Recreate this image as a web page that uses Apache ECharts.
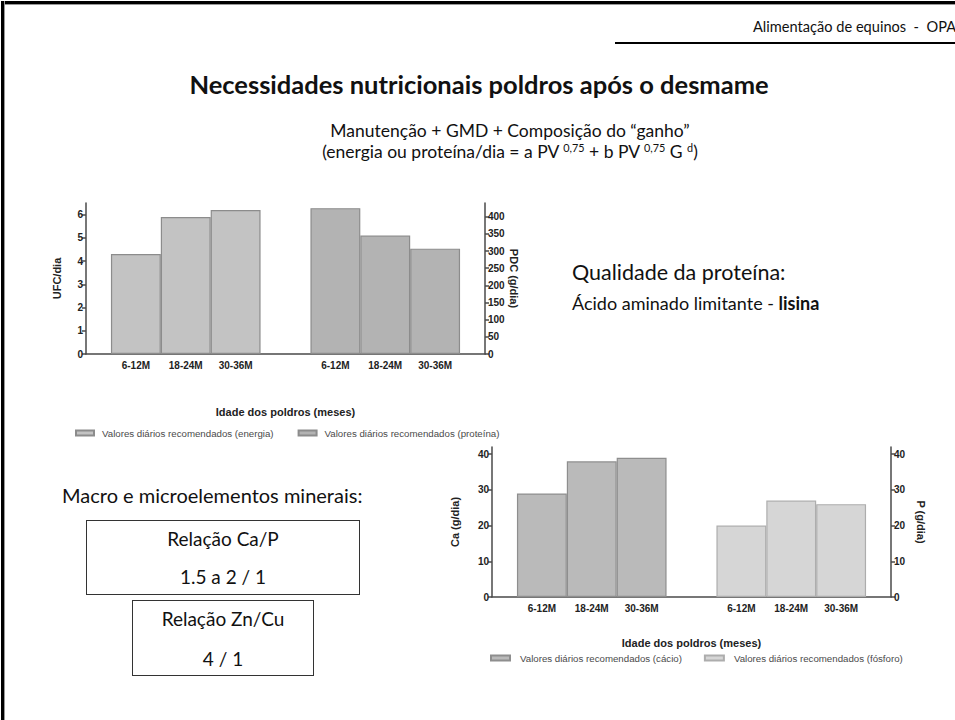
<!DOCTYPE html>
<html>
<head>
<meta charset="utf-8">
<script src="https://cdn.jsdelivr.net/npm/echarts@6/dist/echarts.min.js"></script>
<style>
  html, body { margin: 0; padding: 0; background: #fff; }
  #slide { position: relative; width: 955px; height: 720px; overflow: hidden; background: #fff; font-family: Lato, "Noto Sans", sans-serif; color: #111; }
  #chart { position: absolute; left: 0; top: 0; width: 955px; height: 720px; }
  .t { position: absolute; white-space: nowrap; line-height: 1; }
  .frame-left { position: absolute; left: 1px; top: 1px; width: 3px; height: 719px; background: #000; border-right: 1px solid #999; }
  .frame-top { position: absolute; left: 1px; top: 1px; width: 954px; height: 3px; background: #000; border-bottom: 1px solid #999; }
  .rule { position: absolute; left: 615px; top: 42px; width: 340px; height: 2px; background: #000; }
  .box { position: absolute; border: 1.5px solid #333; box-sizing: border-box; text-align: center; font-size: 19px; }
  .box div { position: absolute; left: 0; right: 0; line-height: 1; }
  sup { font-size: 62%; vertical-align: 0; position: relative; top: -0.55em; }
</style>
</head>
<body>
<div id="slide">
  <div class="frame-top"></div>
  <div class="frame-left"></div>
  <div class="t" style="left:753px; top:20px; font-size:14.6px;">Alimentação de equinos &nbsp;- &nbsp;OPA</div>
  <div class="rule"></div>

  <div class="t" style="left:0; width:958px; text-align:center; top:72px; font-size:25.5px; font-weight:bold;">Necessidades nutricionais poldros após o desmame</div>
  <div class="t" style="left:190px; width:640px; text-align:center; top:122px; font-size:17.5px;">Manutenção + GMD + Composição do “ganho”</div>
  <div class="t" style="left:190px; width:640px; text-align:center; top:143px; font-size:17.5px;">(energia ou proteína/dia = a PV <sup>0,75</sup> + b PV <sup>0,75</sup> G <sup>d</sup>)</div>

  <div class="t" style="left:572px; top:262px; font-size:21.5px;">Qualidade da proteína:</div>
  <div class="t" style="left:572px; top:294px; font-size:18px;">Ácido aminado limitante - <b>lisina</b></div>

  <div class="t" style="left:62px; top:485px; font-size:20px;">Macro e microelementos minerais:</div>
  <div class="box" style="left:86px; top:520px; width:274px; height:75px;">
    <div style="top:8px;">Relação Ca/P</div>
    <div style="top:46px;">1.5 a 2 / 1</div>
  </div>
  <div class="box" style="left:132px; top:600px; width:182px; height:76px;">
    <div style="top:8px;">Relação Zn/Cu</div>
    <div style="top:48px;">4 / 1</div>
  </div>

  <div id="chart"></div>
</div>
<script>
// Age classes, drawn twice on each chart: one block per nutrient
const ageGroups = ['6-12M', '18-24M', '30-36M'];

// Daily recommendations for weaned foals
const energyUFC   = [4.3, 5.9, 6.2];   // UFC/dia
const proteinPDC  = [425, 345, 307];   // PDC (g/dia)
const calciumCa   = [29, 38, 39];      // Ca (g/dia)
const phosphorusP = [20, 27, 26];      // P (g/dia)

// Slot layout: empty edge, left block, empty gap, right block, empty edge
const slotLabels = [''].concat(ageGroups, [''], ageGroups, ['']);
function leftBlock(vals)  { return [null].concat(vals, [null, null, null, null, null]); }
function rightBlock(vals) { return [null, null, null, null, null].concat(vals, [null]); }

const chartFont = '"Liberation Sans", Arial, sans-serif';
const axisColor = '#4a4a4a';

function xAxisFor(gridIndex, nameGap) {
  return {
    type: 'category', gridIndex: gridIndex, data: slotLabels, boundaryGap: false,
    axisLine: { lineStyle: { color: axisColor, width: 1.5 } },
    axisTick: { show: false },
    axisLabel: { interval: 0, margin: 6, fontFamily: chartFont, fontWeight: 'bold', fontSize: 10, color: '#222' },
    name: 'Idade dos poldros (meses)', nameLocation: 'middle', nameGap: nameGap,
    nameTextStyle: { fontFamily: chartFont, fontWeight: 'bold', fontSize: 11, color: '#222' }
  };
}

function yAxisFor(gridIndex, position, name, max, interval, nameGap) {
  return {
    type: 'value', gridIndex: gridIndex, position: position, min: 0, max: max, interval: interval,
    splitLine: { show: false },
    axisLine: { show: true, lineStyle: { color: axisColor, width: 1.5 } },
    axisTick: { show: true, length: 4, lineStyle: { color: axisColor, width: 1.5 } },
    axisLabel: { showMaxLabel: false, margin: 3, fontFamily: chartFont, fontWeight: 'bold', fontSize: 10, color: '#222' },
    name: name, nameLocation: 'middle', nameGap: nameGap, nameRotate: position === 'left' ? 90 : -90,
    nameTextStyle: { fontFamily: chartFont, fontWeight: 'bold', fontSize: 11, color: '#222' }
  };
}

function barSeries(name, xi, yi, data, fill, border) {
  return {
    name: name, type: 'bar', xAxisIndex: xi, yAxisIndex: yi, data: data,
    barWidth: '100%', barGap: '-100%', barCategoryGap: '0%',
    itemStyle: { color: fill, borderColor: border, borderWidth: 1.2 }
  };
}

const legendText = { fontFamily: chartFont, fontSize: 9.7, color: '#4a4a4a' };

const chart = echarts.init(document.getElementById('chart'), null, { renderer: 'svg' });
chart.setOption({
  animation: false,
  grid: [
    { left: 86, top: 203, width: 399, height: 151 },
    { left: 492, top: 447, width: 399, height: 150 }
  ],
  xAxis: [xAxisFor(0, 52), xAxisFor(1, 40)],
  yAxis: [
    yAxisFor(0, 'left', 'UFC/dia', 6.5, 1, 24),
    yAxisFor(0, 'right', 'PDC (g/dia)', 440, 50, 22),
    yAxisFor(1, 'left', 'Ca (g/dia)', 42, 10, 32),
    yAxisFor(1, 'right', 'P (g/dia)', 42, 10, 24)
  ],
  legend: [
    {
      data: ['Valores diários recomendados (energia)', 'Valores diários recomendados (proteína)'],
      left: 75, top: 428, padding: 0, icon: 'rect', itemWidth: 18, itemHeight: 5, itemGap: 24,
      textStyle: Object.assign({ padding: [0, 0, 0, 3] }, legendText)
    },
    {
      data: ['Valores diários recomendados (cácio)', 'Valores diários recomendados (fósforo)'],
      left: 490, top: 653, padding: 0, icon: 'rect', itemWidth: 19, itemHeight: 5, itemGap: 22,
      textStyle: Object.assign({ padding: [0, 0, 0, 5] }, legendText)
    }
  ],
  series: [
    barSeries('Valores diários recomendados (energia)', 0, 0, leftBlock(energyUFC), '#c3c3c3', '#8c8c8c'),
    barSeries('Valores diários recomendados (proteína)', 0, 1, rightBlock(proteinPDC), '#b3b3b3', '#8c8c8c'),
    barSeries('Valores diários recomendados (cácio)', 1, 2, leftBlock(calciumCa), '#bababa', '#8e8e8e'),
    barSeries('Valores diários recomendados (fósforo)', 1, 3, rightBlock(phosphorusP), '#d6d6d6', '#adadad')
  ]
});
</script>
</body>
</html>
